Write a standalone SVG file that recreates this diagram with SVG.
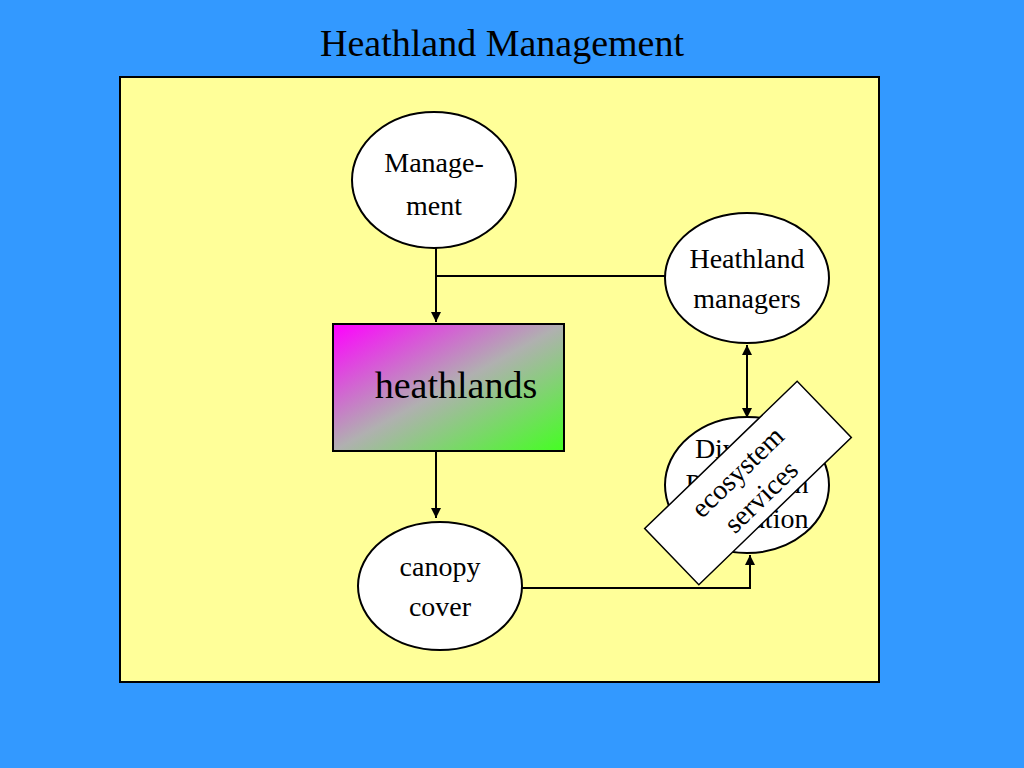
<svg xmlns="http://www.w3.org/2000/svg" width="1024" height="768" viewBox="0 0 1024 768">
<style>
text{font-family:"Liberation Serif",serif;fill:#000;text-anchor:middle}
.n{fill:#fff;stroke:#000;stroke-width:2}
.c{stroke:#000;stroke-width:2;fill:none}
</style>
<defs>
<linearGradient id="g" x1="0" y1="0" x2="1" y2="1"><stop offset="0" stop-color="#ff00ff"/><stop offset="0.5" stop-color="#b0b0b0"/><stop offset="1" stop-color="#44ff22"/></linearGradient>
<marker id="a" viewBox="0 0 10 10" refX="10" refY="5" markerWidth="5" markerHeight="5" orient="auto-start-reverse"><path d="M0,0L10,5L0,10z" fill="#000"/></marker>
</defs>
<rect width="1024" height="768" fill="#3399ff"/>
<text x="502" y="56" font-size="38">Heathland Management</text>
<rect x="120" y="77" width="759" height="605" fill="#ffff99" stroke="#000" stroke-width="2"/>
<g id="connectors">
<path class="c" d="M436,248V322" marker-end="url(#a)"/>
<path class="c" d="M436,276H666"/>
<path class="c" d="M436,452V518" marker-end="url(#a)"/>
<path class="c" d="M747,345V418" marker-start="url(#a)" marker-end="url(#a)"/>
<path class="c" d="M522,588H750V555" marker-end="url(#a)"/>
</g>
<g id="management"><ellipse class="n" cx="434" cy="180" rx="82" ry="68"/><text x="434" y="172" font-size="28">Manage-</text><text x="434" y="215" font-size="28">ment</text></g>
<g id="managers"><ellipse class="n" cx="747" cy="278" rx="82" ry="65"/><text x="747" y="268" font-size="28">Heathland</text><text x="747" y="308" font-size="28">managers</text></g>
<g id="heathlands"><rect x="333" y="324" width="231" height="127" fill="url(#g)" stroke="#000" stroke-width="2"/><text x="456" y="398" font-size="38">heathlands</text></g>
<g id="canopy"><ellipse class="n" cx="440" cy="586" rx="82" ry="64"/><text x="440" y="576" font-size="28">canopy</text><text x="440" y="616" font-size="28">cover</text></g>
<g id="diversity"><ellipse class="n" cx="747" cy="485" rx="82" ry="68"/><text x="747" y="458" font-size="28">Diversity</text><text x="747" y="493" font-size="28">Pollination</text><text x="747" y="528" font-size="28">Regulation</text></g>
<g id="ecosystem" transform="translate(748,483) rotate(-44)"><rect x="-106" y="-39" width="212" height="78" fill="#fff" stroke="#000" stroke-width="1.5"/><text x="0" y="-6" font-size="28">ecosystem</text><text x="0" y="28" font-size="28">services</text></g>
</svg>
